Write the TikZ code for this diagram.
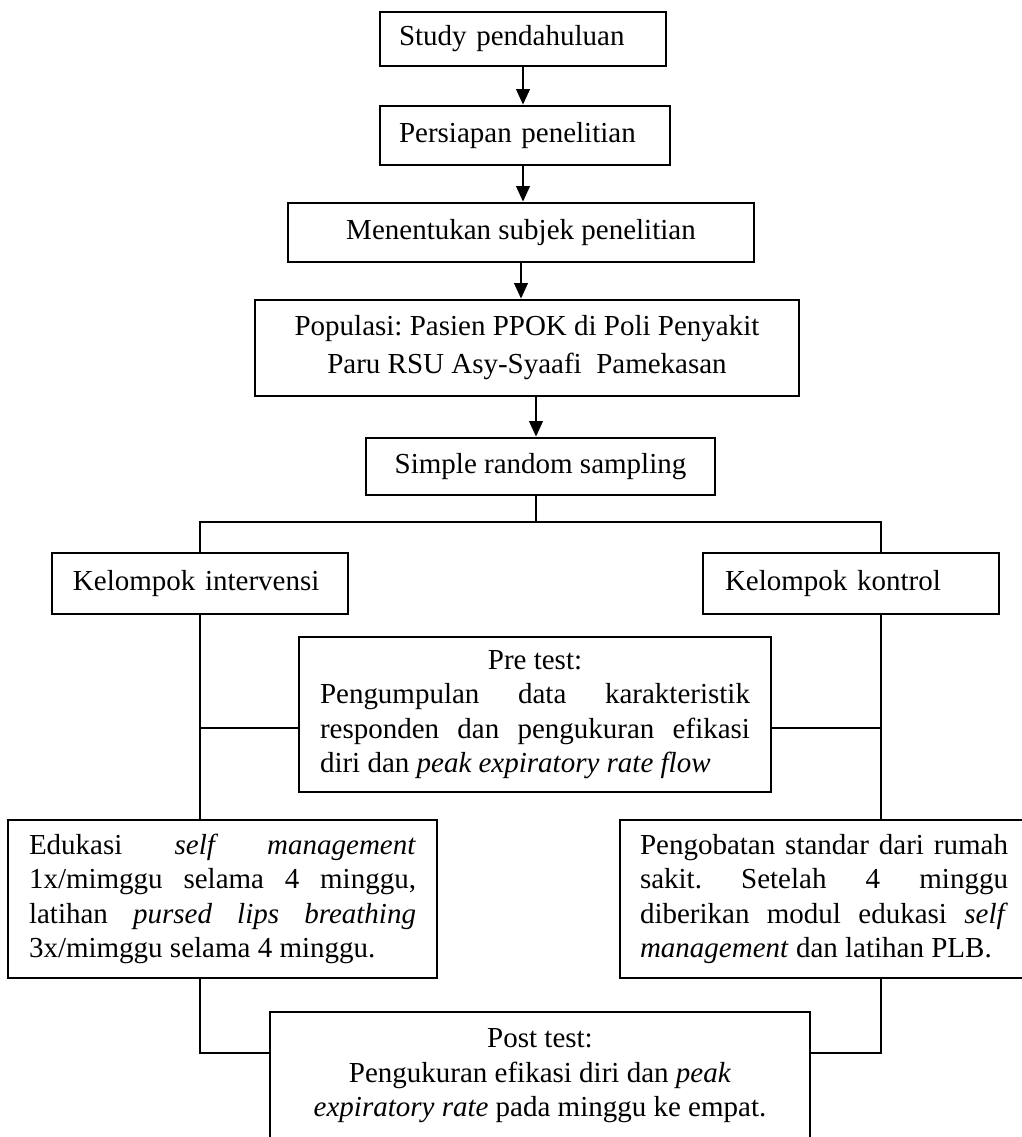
\documentclass[tikz,border=0pt]{standalone}
\usepackage{fontspec}
\setmainfont{Liberation Serif}
\usetikzlibrary{arrows.meta}
\newdimen\pxu \pxu=0.4138pt
\setlength\parindent{0pt}
\tolerance=10000 \hbadness=10000
\frenchspacing
\begin{document}
\begin{tikzpicture}[x=0.4138pt,y=-0.4138pt,
 font=\fontsize{12pt}{14.3pt}\selectfont,
 box/.style={draw,line width=1.15pt,inner ysep=0pt},
 lbox/.style={box,align=left},
 jbox/.style={box,align=justify},
 conn/.style={line width=0.9pt},
 arr/.style={conn,-{Triangle[length=6.4pt,width=5.6pt]}}]
\useasboundingbox (0,0) rectangle (1022,1137);
\clip (0,0) rectangle (1022,1137);
\fill[white] (0,0) rectangle (1022,1137);

\node[lbox, text width=248\pxu, inner xsep=19\pxu, minimum height=54\pxu] (s1) at (523,39) {Study pendahuluan};
\node[lbox, text width=252\pxu, inner xsep=19\pxu, minimum height=59\pxu] (s2) at (525,135.5) {Persiapan penelitian};
\node[box, minimum width=466\pxu, minimum height=59\pxu] (s3) at (521,232.5) {Menentukan subjek penelitian};
\node[box, align=center, minimum width=544\pxu, minimum height=96\pxu, font=\fontsize{12pt}{15.7pt}\selectfont] (s4) at (527,348) {Populasi: Pasien PPOK di Poli Penyakit\\Paru RSU Asy-Syaafi\ \ Pamekasan};
\node[box, minimum width=349\pxu, minimum height=57\pxu] (s5) at (540.5,466.5) {Simple random sampling};
\node[lbox, text width=254\pxu, inner xsep=21\pxu, minimum height=61\pxu] (ki) at (200,583.5) {Kelompok intervensi};
\node[lbox, text width=252\pxu, inner xsep=22\pxu, minimum height=61\pxu] (kk) at (851,583.5) {Kelompok kontrol};
\node[jbox, text width=430\pxu, inner xsep=21\pxu, minimum height=155\pxu] (pre) at (535,714.5) {\hspace*{\fill}Pre test:\hspace*{\fill}\linebreak Pengumpulan data karakteristik\linebreak responden dan pengukuran efikasi\linebreak diri dan \textit{peak expiratory rate flow}};
\node[jbox, text width=387\pxu, inner xsep=21\pxu, minimum height=158\pxu] (edu) at (222.5,899) {Edukasi \textit{self management}\linebreak 1x/mimggu selama 4 minggu,\linebreak latihan \textit{pursed lips breathing}\linebreak 3x/mimggu selama 4 minggu.};
\node[jbox, text width=368\pxu, inner xsep=20\pxu, minimum height=158\pxu] (peng) at (824,899) {Pengobatan standar dari rumah\linebreak sakit. Setelah 4 minggu\linebreak diberikan modul edukasi \textit{self}\linebreak \textit{management} dan latihan PLB.};
\node[box, align=center, minimum width=540\pxu, minimum height=128\pxu] (post) at (540,1076) {Post test:\\Pengukuran efikasi diri dan \textit{peak}\\\textit{expiratory rate} pada minggu ke empat.};

\coordinate (a4) at (536,0);
\draw[arr] (s1.south) -- (s1.south |- s2.north);
\draw[arr] (s2.south -| s1.south) -- (s1.south |- s3.north);
\draw[arr] (s3.south) -- (s3.south |- s4.north);
\draw[arr] (s4.south -| a4) -- (s5.north -| a4);

\coordinate (jL) at (200,522);
\coordinate (jR) at (881,522);
\draw[conn] (s5.south -| a4) -- (jL -| a4);
\draw[conn] (ki.north -| jL) -- (jL) -- (jR) -- (kk.north -| jR);
\draw[conn] (ki.south -| jL) -- (edu.north -| jL);
\draw[conn] (kk.south -| jR) -- (peng.north -| jR);

\coordinate (mL) at (200,728);
\coordinate (mR) at (881,728);
\draw[conn] (mL) -- (mL -| pre.west);
\draw[conn] (mR) -- (mR -| pre.east);

\coordinate (bL) at (200,1053);
\coordinate (bR) at (881,1053);
\draw[conn] (edu.south -| bL) -- (bL) -- (bL -| post.west);
\draw[conn] (peng.south -| bR) -- (bR) -- (bR -| post.east);
\end{tikzpicture}
\end{document}
